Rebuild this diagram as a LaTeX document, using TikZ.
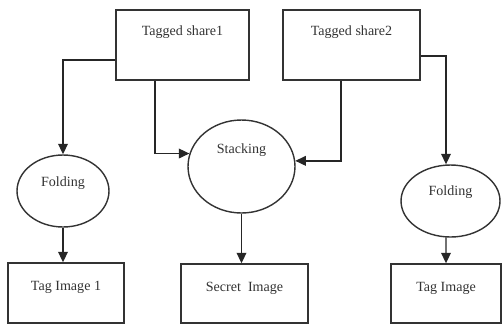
\documentclass[tikz,border=0pt]{standalone}
\usepackage{fontspec}
\setmainfont{Liberation Serif}
\usetikzlibrary{shapes.geometric,arrows.meta}

\begin{document}
\begin{tikzpicture}[x=0.02cm,y=-0.02cm,
	every node/.style={font=\fontsize{8}{9}\selectfont, text=black!80},
	box/.style={draw=black!80, thick, rectangle},
	oval/.style={draw=black!80, thick, ellipse},
	arr/.style={->, >={Triangle[length=6pt,width=5.5pt]}, draw=black!85, thick}]
		\useasboundingbox (0,0) rectangle (502,325);
		% shares
		\node[box, minimum width=2.66cm, minimum height=1.4cm, label={[anchor=north, yshift=-0.2cm]north:Tagged share1}] (share1) at (182.5,45) {};
		\node[box, minimum width=2.74cm, minimum height=1.4cm, label={[anchor=north, yshift=-0.2cm]north:Tagged share2}] (share2) at (351.5,45) {};
		% operations
		\node[oval, minimum width=1.84cm, minimum height=1.44cm, label={[yshift=0.16cm]center:Folding}] (fold1) at (63,191) {};
		\node[oval, minimum width=2.14cm, minimum height=1.86cm, label={[yshift=0.33cm]center:Stacking}] (stack) at (241.5,166.5) {};
		\node[oval, minimum width=1.98cm, minimum height=1.44cm, label={[yshift=0.18cm]center:Folding}] (fold2) at (450.5,201) {};
		% results
		\node[box, minimum width=2.32cm, minimum height=1.2cm, label={[anchor=north, yshift=-0.26cm]north:Tag Image 1}] (tag1) at (66,293) {};
		\node[box, minimum width=2.54cm, minimum height=1.18cm, label={[anchor=north, yshift=-0.26cm]north:Secret\ \ Image}] (secret) at (244.5,293.5) {};
		\node[box, minimum width=2.2cm, minimum height=1.18cm, label={[anchor=north, yshift=-0.26cm]north:Tag Image}] (tag2) at (446,293.5) {};

		\draw[arr] ([yshift=-0.3cm]share1.west) -| (fold1.north);
		\draw[arr] ([xshift=-0.55cm]share1.south) |- (stack.166);
		\draw[arr] ([xshift=-0.21cm]share2.south) |- (stack.6);
		\draw[arr] ([yshift=-0.22cm]share2.east) -| ([xshift=-0.09cm]fold2.north);

		\draw[arr] (fold1.south) -- (fold1.south |- tag1.north);
		\draw[arr] (stack.south) -- (stack.south |- secret.north);
		\draw[arr] ([xshift=-0.09cm]fold2.south) -- (tag2.north);
\end{tikzpicture}
\end{document}
